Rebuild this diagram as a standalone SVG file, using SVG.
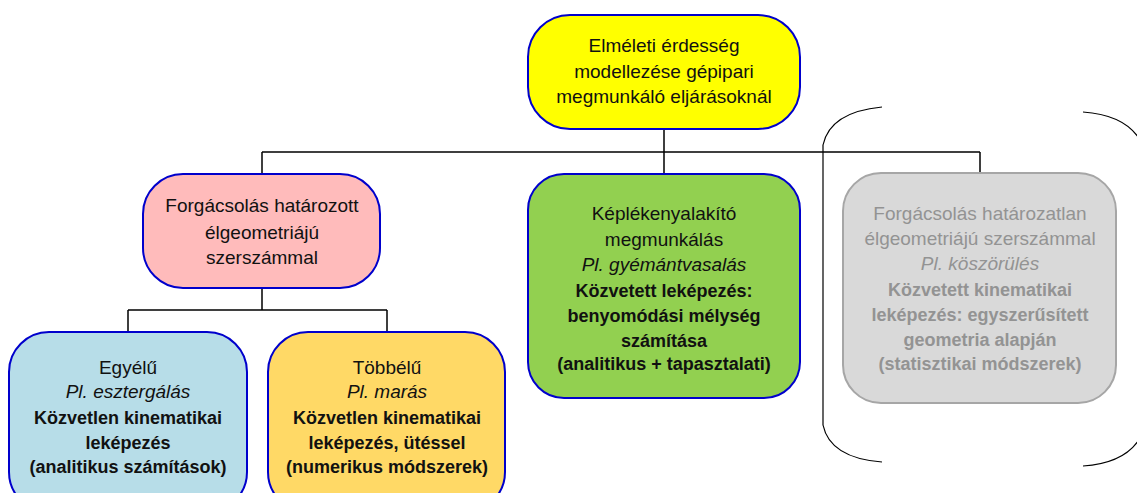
<svg xmlns="http://www.w3.org/2000/svg" width="1137" height="493" viewBox="0 0 1137 493">
<style>
.box{stroke:#0000cc;stroke-width:2}
.t{font-family:"Liberation Sans",Arial,sans-serif;font-size:19px;fill:#111;text-anchor:middle}
.i{font-style:italic}
.b{font-weight:bold;font-size:18px}
.g{fill:#939393}
.conn{fill:none;stroke:#000;stroke-width:1.5}
.br{fill:none;stroke:#000;stroke-width:1.2}
</style>
<rect width="1137" height="493" fill="#fff"/>
<g id="connectors">
<path class="conn" d="M664 129V152M262 152H980M262 152V174M664 152V174M980 152V173"/>
<path class="conn" d="M262 288V310M128 310H387M128 310V332M387 310V332"/>
</g>
<g id="bracket">
<path class="br" d="M882 107Q830 112 823 145V425Q830 458 882 462"/>
<path class="br" d="M1083 112Q1125 115 1140 140M1083 466Q1125 463 1140 438"/>
</g>
<g id="root">
<rect class="box" x="528" y="15" width="272" height="114" rx="42" fill="#ffff00"/>
<text class="t" x="664" y="52">Elméleti érdesség</text>
<text class="t" x="664" y="78">modellezése gépipari</text>
<text class="t" x="664" y="103">megmunkáló eljárásoknál</text>
</g>
<g id="n-hatarozott">
<rect class="box" x="143" y="174" width="237" height="114" rx="40" fill="#ffbbbb"/>
<text class="t" x="262" y="212">Forgácsolás határozott</text>
<text class="t" x="262" y="239">élgeometriájú</text>
<text class="t" x="262" y="264">szerszámmal</text>
</g>
<g id="n-kepleken">
<rect class="box" x="528" y="174" width="272" height="224" rx="36" fill="#92d050"/>
<text class="t" x="664" y="220">Képlékenyalakító</text>
<text class="t" x="664" y="246">megmunkálás</text>
<text class="t i" x="664" y="271">Pl. gyémántvasalás</text>
<text class="t b" x="664" y="297">Közvetett leképezés:</text>
<text class="t b" x="664" y="322">benyomódási mélység</text>
<text class="t b" x="664" y="347">számítása</text>
<text class="t b" x="664" y="370">(analitikus + tapasztalati)</text>
</g>
<g id="n-hatarozatlan">
<rect x="843" y="173" width="273" height="230" rx="38" fill="#d9d9d9" stroke="#a6a6a6" stroke-width="2"/>
<text class="t g" x="980" y="220">Forgácsolás határozatlan</text>
<text class="t g" x="980" y="245">élgeometriájú szerszámmal</text>
<text class="t i g" x="980" y="270">Pl. köszörülés</text>
<text class="t b g" x="980" y="296">Közvetett kinematikai</text>
<text class="t b g" x="980" y="321">leképezés: egyszerűsített</text>
<text class="t b g" x="980" y="346">geometria alapján</text>
<text class="t b g" x="980" y="370">(statisztikai módszerek)</text>
</g>
<g id="n-egyelu">
<rect class="box" x="9" y="332" width="238" height="180" rx="40" fill="#b7dde8"/>
<text class="t" x="128" y="374">Egyélű</text>
<text class="t i" x="128" y="398">Pl. esztergálás</text>
<text class="t b" x="128" y="424">Közvetlen kinematikai</text>
<text class="t b" x="128" y="449">leképezés</text>
<text class="t b" x="128" y="473">(analitikus számítások)</text>
</g>
<g id="n-tobbelu">
<rect class="box" x="268" y="332" width="237" height="180" rx="40" fill="#ffd966"/>
<text class="t" x="387" y="374">Többélű</text>
<text class="t i" x="387" y="398">Pl. marás</text>
<text class="t b" x="387" y="424">Közvetlen kinematikai</text>
<text class="t b" x="387" y="449">leképezés, ütéssel</text>
<text class="t b" x="387" y="473">(numerikus módszerek)</text>
</g>
</svg>
